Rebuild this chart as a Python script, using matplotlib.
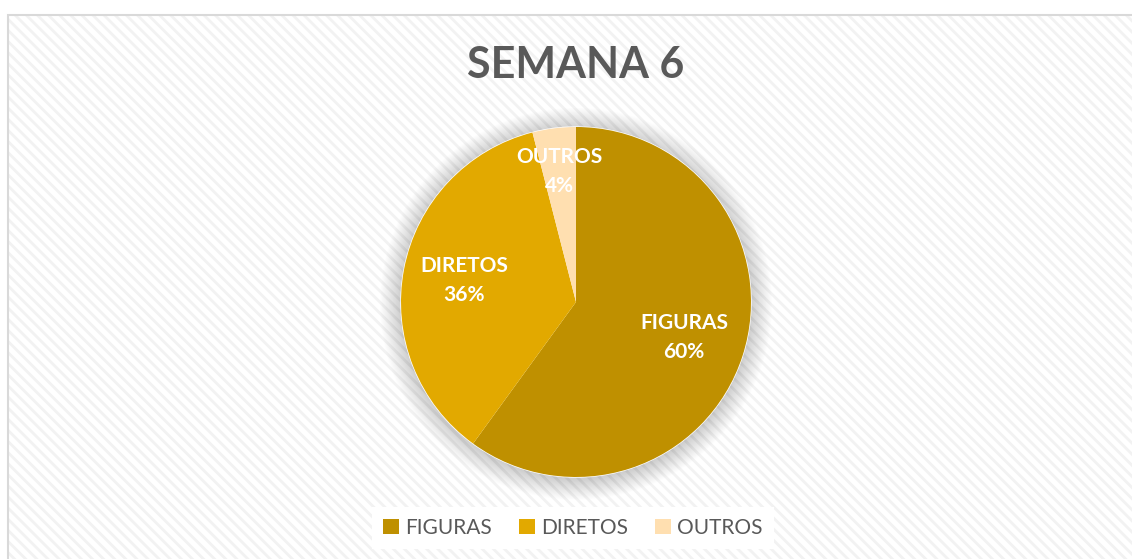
import matplotlib
matplotlib.use('Agg')

import matplotlib.pyplot as plt
from matplotlib.patches import Rectangle, Circle, Patch
import numpy as np

# === data ===
categorias = ['FIGURAS', 'DIRETOS', 'OUTROS']
percentuais = [60, 36, 4]
cores = ['#BF9000', '#E2A900', '#FFDFB0']
titulo = 'SEMANA 6'

plt.rcParams['font.family'] = ['Lato', 'DejaVu Sans']
plt.rcParams['hatch.linewidth'] = 2.0

W, H = 1132, 559
fig = plt.figure(figsize=(W / 100, H / 100), dpi=100)

# fundo com listras diagonais + borda
area = (8 / W, -0.1)
aw, ah = 1.1, (H - 15) / H + 0.1
fig.patches.append(Rectangle(area, aw, ah, transform=fig.transFigure, facecolor='white',
                             edgecolor='#F2F2F2', linewidth=0, hatch='\\\\\\', zorder=-5))
fig.patches.append(Rectangle(area, aw, ah, transform=fig.transFigure, facecolor='none',
                             edgecolor='#D9D9D9', linewidth=1.5, zorder=-4))

# === pizza ===
cx, cy, r = 576, 302, 175
half = 230
ax = fig.add_axes([(cx - half) / W, (H - cy - half) / H, 2 * half / W, 2 * half / H])
ax.patch.set_visible(False)

# sombra suave
for k in range(24):
    ax.add_patch(Circle((0, -0.01), 1 + 0.005 * (k + 1), color='black',
                        alpha=0.009, linewidth=0, zorder=0))
ax.add_patch(Circle((0, 0), 1.0, color='white', zorder=0.5))

wedges, _ = ax.pie(percentuais, colors=cores, startangle=90, counterclock=False,
                   radius=1, wedgeprops=dict(linewidth=0))

lim = half / r
ax.set_xlim(-lim, lim)
ax.set_ylim(-lim, lim)
ax.set_aspect('equal')
ax.axis('off')

dist = [0.65, 0.65, 0.75]
for w, nome, p, d in zip(wedges, categorias, percentuais, dist):
    ang = np.deg2rad((w.theta1 + w.theta2) / 2)
    ax.text(d * np.cos(ang), d * np.sin(ang), f'{nome}\n{p}%', ha='center', va='center',
            color='white', fontsize=15, fontweight='bold', linespacing=1.55)

fig.text(576 / W, 1 - 65 / H, titulo, ha='center', va='center', fontsize=31,
         fontweight='bold', color='#595959')

handles = [Patch(facecolor=c, edgecolor='none') for c in cores]
leg = fig.legend(handles, categorias, loc='center', bbox_to_anchor=(573 / W, 1 - 528 / H),
                 ncol=3, frameon=True, fontsize=15, handlelength=0.75, handleheight=0.75,
                 handletextpad=0.3, columnspacing=1.3, borderpad=0.55)
leg.get_frame().set_facecolor('white')
leg.get_frame().set_edgecolor('none')
leg.get_frame().set_alpha(1)
leg.get_frame().set_boxstyle('square', pad=0)
for t in leg.get_texts():
    t.set_color('#595959')

fig.savefig('out.png', dpi=100)
